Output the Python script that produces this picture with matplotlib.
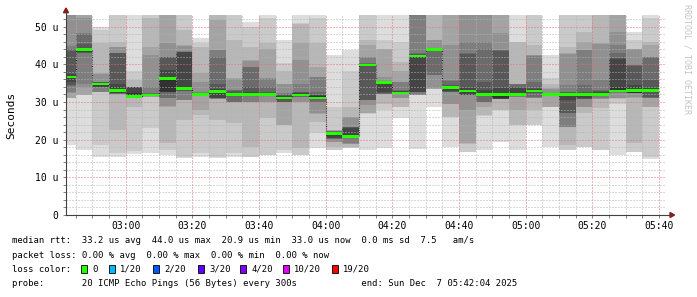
"""SmokePing style latency chart: smoke bands, median and legend"""

import matplotlib
matplotlib.use("Agg")
import matplotlib.pyplot as plt
import matplotlib.dates as mdates
import numpy as np
import pandas as pd
from matplotlib.lines import Line2D
from matplotlib.patches import Polygon, Rectangle
from matplotlib.ticker import MultipleLocator, FuncFormatter

W, H = 697, 297
MONO = "DejaVu Sans Mono"

# 5 minute steps, each value belongs to the interval ending at that time
bar_ends = pd.date_range("2025-12-07 02:45", "2025-12-07 05:40", freq="5min")
view_start = pd.Timestamp("2025-12-07 02:42:04")
view_end = pd.Timestamp("2025-12-07 05:42:04")
y_top = 53.1  # microseconds

median_rtt = [36.7, 43.9, 34.8, 33.0, 31.5, 31.8, 36.2, 33.6, 32.0, 32.8,
              31.95, 31.95, 31.95, 31.1, 31.8, 31.1, 21.6, 20.9, 39.8, 35.2,
              32.4, 42.2, 44.0, 33.8, 32.9, 32.0, 32.0, 32.0, 32.9, 32.0,
              32.0, 32.0, 32.0, 32.9, 33.0, 33.0]

# 20 pings per step, sorted (us); values above the top are clipped
sorted_pings = [
    [18.6, 31.0, 31.0, 31.1, 32.5, 32.7, 34.2, 34.5, 35.4, 36.6, 36.9, 37.5, 43.5, 44.0, 44.8, 55, 56, 57, 58, 59],
    [17.3, 31.8, 31.9, 31.95, 33.6, 34.9, 42.9, 43.1, 43.3, 43.6, 44.0, 44.3, 45.4, 48.0, 48.2, 52.2, 55, 56, 57, 58],
    [15.5, 18.6, 32.6, 32.65, 32.7, 32.75, 33.9, 33.95, 34.1, 34.6, 35.0, 35.1, 35.2, 35.3, 35.4, 37.5, 37.6, 45.6, 49.1, 50.0],
    [15.5, 16.4, 22.6, 31.9, 32.0, 32.1, 32.2, 32.3, 32.5, 32.8, 33.4, 34.9, 42.9, 42.95, 43.0, 44.6, 44.7, 46.0, 55, 56],
    [16.3, 17.0, 28.8, 31.1, 31.15, 31.2, 31.25, 31.3, 31.35, 31.4, 32.5, 34.0, 34.05, 34.06, 34.07, 34.08, 34.1, 35.8, 38.1, 55],
    [16.4, 23.0, 31.4, 31.45, 31.5, 31.52, 31.55, 31.6, 31.65, 31.7, 31.85, 32.1, 32.2, 32.3, 34.1, 42.5, 44.7, 52.2, 55, 56],
    [15.9, 17.3, 19.0, 28.8, 28.85, 31.0, 31.05, 32.6, 32.65, 32.7, 36.7, 38.5, 41.9, 42.0, 42.05, 45.6, 55, 56, 57, 58],
    [15.2, 15.5, 25.2, 30.4, 30.45, 30.5, 32.9, 33.0, 33.1, 33.2, 34.0, 43.3, 43.35, 43.4, 43.45, 45.0, 45.1, 49.1, 55, 56],
    [15.5, 16.4, 26.5, 27.9, 31.7, 31.75, 31.8, 31.85, 31.9, 31.95, 32.2, 32.3, 32.4, 32.5, 32.7, 35.4, 37.6, 44.7, 45.6, 46.9],
    [15.2, 15.5, 25.2, 30.8, 30.85, 30.9, 30.95, 31.0, 31.05, 32.7, 33.0, 33.4, 34.9, 42.0, 43.8, 43.85, 51.8, 55, 56, 57],
    [15.5, 16.4, 24.3, 29.9, 29.95, 30.0, 30.1, 31.6, 31.7, 31.8, 32.1, 32.5, 33.0, 33.1, 33.2, 36.2, 36.3, 46.5, 55, 56],
    [15.4, 15.5, 18.1, 29.95, 30.0, 30.1, 31.6, 31.7, 31.75, 31.8, 32.1, 32.7, 34.1, 39.3, 39.4, 41.0, 41.1, 44.7, 50.0, 51.3],
    [15.8, 15.9, 25.7, 30.05, 30.1, 31.6, 31.65, 31.7, 31.75, 31.8, 32.1, 32.5, 32.7, 34.1, 36.2, 36.3, 44.2, 45.6, 52.2, 55],
    [16.4, 17.3, 23.85, 23.9, 30.0, 30.05, 30.08, 30.1, 30.9, 31.0, 31.3, 31.5, 31.8, 32.2, 32.3, 34.8, 34.9, 38.1, 40.3, 46.5],
    [15.8, 15.9, 17.7, 30.05, 30.1, 31.4, 31.45, 31.5, 31.6, 31.7, 32.1, 32.3, 32.6, 32.7, 34.9, 41.1, 45.6, 50.8, 50.9, 55],
    [17.7, 21.7, 24.8, 26.9, 27.0, 30.0, 30.1, 30.7, 30.8, 30.9, 31.5, 31.8, 31.9, 32.7, 36.6, 36.7, 39.4, 45.6, 52.2, 55],
    [17.2, 17.3, 18.1, 19.45, 19.5, 20.25, 20.3, 20.35, 20.4, 21.4, 21.8, 22.0, 22.1, 22.2, 22.3, 22.4, 22.5, 22.6, 28.8, 42.5],
    [17.85, 17.9, 17.95, 18.9, 18.95, 19.0, 20.4, 20.45, 20.5, 20.6, 21.2, 23.2, 23.3, 23.35, 23.4, 26.0, 26.1, 28.8, 38.1, 43.8],
    [17.3, 26.9, 26.95, 27.0, 29.2, 30.4, 30.45, 30.5, 39.7, 39.75, 40.0, 40.1, 40.2, 40.3, 41.9, 42.0, 45.1, 46.5, 55, 56],
    [17.7, 27.9, 29.6, 32.0, 32.05, 32.1, 32.2, 32.3, 32.7, 35.2, 35.4, 35.5, 35.6, 35.65, 35.7, 36.7, 44.1, 44.2, 46.5, 55],
    [25.7, 28.75, 28.8, 30.95, 31.0, 32.2, 32.25, 32.3, 32.32, 32.35, 32.6, 32.8, 33.0, 33.2, 35.3, 35.4, 38.1, 40.7, 46.0, 55],
    [17.5, 31.8, 31.82, 31.84, 31.86, 31.9, 32.6, 32.65, 32.7, 42.0, 42.4, 42.6, 42.8, 42.9, 55, 56, 57, 58, 59, 60],
    [28.8, 33.45, 33.5, 33.55, 33.6, 37.1, 37.2, 43.7, 43.8, 43.9, 44.1, 44.2, 44.3, 44.35, 44.4, 46.4, 46.5, 55, 56, 57],
    [18.1, 26.05, 26.1, 29.55, 29.6, 32.6, 32.65, 32.7, 32.8, 33.5, 34.0, 34.3, 34.5, 35.7, 35.8, 45.1, 55, 56, 57, 58],
    [16.7, 16.8, 18.95, 19.0, 27.9, 31.8, 31.82, 31.85, 31.9, 32.7, 33.2, 33.6, 42.85, 42.9, 46.0, 55, 56, 57, 58, 59],
    [17.3, 26.4, 26.5, 28.8, 29.95, 30.0, 30.1, 31.6, 31.7, 31.8, 32.3, 33.2, 35.4, 44.2, 46.0, 55, 56, 57, 58, 59],
    [19.5, 27.85, 27.9, 30.7, 30.75, 30.8, 30.82, 30.85, 30.9, 31.0, 32.3, 33.6, 43.6, 43.7, 43.8, 48.2, 55, 56, 57, 58],
    [17.3, 23.85, 23.9, 27.9, 31.4, 31.45, 31.5, 31.55, 31.6, 31.7, 32.5, 33.8, 33.9, 34.7, 34.8, 34.85, 34.9, 45.95, 46.0, 55],
    [23.85, 23.9, 27.9, 31.0, 31.05, 31.1, 31.2, 32.5, 32.6, 32.7, 33.1, 33.4, 33.6, 35.4, 42.3, 42.4, 42.5, 45.1, 55, 56],
    [18.1, 28.7, 28.75, 28.8, 31.5, 31.55, 31.6, 31.65, 31.7, 31.8, 32.1, 32.2, 32.3, 32.4, 32.5, 33.5, 33.6, 34.9, 36.3, 42.5],
    [17.25, 17.3, 18.6, 23.3, 23.35, 23.4, 26.95, 27.0, 30.4, 31.8, 32.1, 32.3, 32.6, 32.7, 34.5, 42.8, 42.9, 44.7, 55, 56],
    [18.05, 18.1, 27.0, 28.75, 28.8, 30.8, 30.85, 30.9, 31.0, 31.8, 32.2, 32.5, 32.7, 34.5, 43.7, 43.8, 46.0, 48.7, 55, 56],
    [17.25, 17.3, 28.4, 30.85, 30.9, 31.0, 31.6, 31.65, 31.7, 31.8, 32.2, 32.6, 33.0, 33.2, 35.8, 45.5, 45.6, 55, 56, 57],
    [15.9, 29.6, 30.9, 30.95, 31.0, 32.5, 32.55, 32.6, 32.65, 32.7, 33.6, 41.5, 41.6, 42.9, 45.1, 48.7, 55, 56, 57, 58],
    [16.75, 16.8, 19.0, 31.1, 31.2, 32.3, 32.35, 32.4, 32.45, 32.5, 33.4, 34.5, 39.6, 39.7, 39.8, 44.0, 44.1, 44.2, 46.5, 48.7],
    [15.0, 15.5, 28.75, 28.8, 31.0, 31.05, 31.1, 31.2, 32.6, 32.7, 33.3, 33.6, 35.8, 41.85, 41.9, 42.0, 45.1, 46.0, 52.2, 55],
]

loss_labels = ["0", "1/20", "2/20", "3/20", "4/20", "10/20", "19/20"]
loss_colors = ["#26ff00", "#00b8ff", "#0059ff", "#5e00ff", "#7e00ff",
               "#dd00ff", "#ff0000"]
loss_box_x = [81.3, 109.3, 153.3, 198.3, 240.0, 283.3, 332.0]

legend_lines = [
    "median rtt:  33.2 us avg  44.0 us max  20.9 us min  33.0 us now  0.0 ms sd  7.5   am/s",
    "packet loss: 0.00 % avg  0.00 % max  0.00 % min  0.00 % now",
    "loss color:",
    "probe:       20 ICMP Echo Pings (56 Bytes) every 300s            end: Sun Dec  7 05:42:04 2025",
]
legend_y = [240.8, 255.4, 269.4, 284.0]


def fx(px):
    """pixel x -> figure fraction"""
    return px / W


def fy(py):
    """pixel y (from top) -> figure fraction"""
    return 1 - py / H


fig = plt.figure(figsize=(W / 100, H / 100), dpi=100)
fig.patch.set_facecolor("white")
ax = fig.add_axes([fx(66), fy(215), 600 / W, 200 / H])

pings = np.array(sorted_pings)
starts = mdates.date2num(bar_ends - pd.Timedelta(minutes=5))
edges = np.append(starts, mdates.date2num(bar_ends[-1]))

# smoke: outer pairs light, inner pairs dark, inner drawn over outer
n = pings.shape[1]
half = n // 2
for i in range(half):
    grey = int(190 / half * (half - (i + 1))) + 50
    lo = np.append(pings[:, i], pings[-1, i])
    hi = np.append(pings[:, n - 1 - i], pings[-1, n - 1 - i])
    ax.fill_between(edges, lo, hi, step="post", color=(grey / 255,) * 3,
                    linewidth=0, antialiased=False, zorder=1)

med = np.append(median_rtt, median_rtt[-1])
ax.step(edges, med, where="post", color="#202020", lw=0.8,
        ls=(0, (1, 1)), zorder=2)
swidth = y_top / 200 * 1.25
ax.fill_between(edges, med - swidth, med + swidth, step="post",
                color=loss_colors[0], linewidth=0, antialiased=False, zorder=3)

ax.set_xlim(mdates.date2num(view_start), mdates.date2num(view_end))
ax.set_ylim(0, y_top)
ax.set_facecolor("white")

ax.xaxis.set_major_locator(mdates.MinuteLocator(byminute=[0, 20, 40]))
ax.xaxis.set_minor_locator(mdates.MinuteLocator(byminute=range(0, 60, 5)))
ax.xaxis.set_major_formatter(mdates.DateFormatter("%H:%M"))
ax.yaxis.set_major_locator(MultipleLocator(10))
ax.yaxis.set_minor_locator(MultipleLocator(2))
ax.yaxis.set_major_formatter(
    FuncFormatter(lambda v, _: "0" if v == 0 else f"{v:.0f} u"))

ax.set_axisbelow(False)
ax.grid(which="minor", color=(0.7, 0.7, 0.7, 0.55), lw=0.72,
        ls=(0, (1, 2)), antialiased=True)
ax.grid(which="major", color=(0.88, 0.45, 0.45, 0.55), lw=0.72,
        ls=(0, (1, 2)), antialiased=True)

for side in ax.spines.values():
    side.set_visible(False)
ax.tick_params(which="both", length=2, width=0.7, color="#808080",
               labelsize=7, labelcolor="black")
ax.tick_params(axis="x", which="major", pad=2.2)
ax.tick_params(axis="y", which="major", pad=3.4)
for lab in ax.get_xticklabels() + ax.get_yticklabels():
    lab.set_family(MONO)

# axes with arrow heads
axis_col = "#404040"
arrow_col = "#8b1a1a"
fig.add_artist(Line2D([fx(66), fx(66)], [fy(215), fy(12)], color=axis_col,
                      lw=0.8))
fig.add_artist(Line2D([fx(66), fx(671)], [fy(215), fy(215)], color=axis_col,
                      lw=0.8))
fig.add_artist(Polygon([[fx(63.5), fy(12.7)], [fx(68.5), fy(12.7)],
                        [fx(66), fy(8)]], closed=True, color=arrow_col))
fig.add_artist(Polygon([[fx(670), fy(212.5)], [fx(670), fy(217.5)],
                        [fx(674.5), fy(215)]], closed=True, color=arrow_col))

fig.text(fx(10.8), fy(115), "Seconds", rotation=90, ha="center",
         va="center", family=MONO, size=8)
fig.text(fx(686.5), fy(4), "RRDTOOL / TOBI OETIKER", rotation=270,
         ha="center", va="top", family=MONO, size=6, color="#c4c4c4")

for text, y in zip(legend_lines, legend_y):
    fig.text(fx(12), fy(y), text, ha="left", va="center", family=MONO,
             size=6.4)

for label, colour, bx in zip(loss_labels, loss_colors, loss_box_x):
    fig.add_artist(Rectangle((fx(bx), fy(272.7)), 6 / W, 7.7 / H,
                             facecolor=colour, edgecolor="black", lw=0.6))
    fig.text(fx(bx + 11), fy(legend_y[2]), label, ha="left", va="center",
             family=MONO, size=6.4)

fig.savefig("out.png", dpi=100)
